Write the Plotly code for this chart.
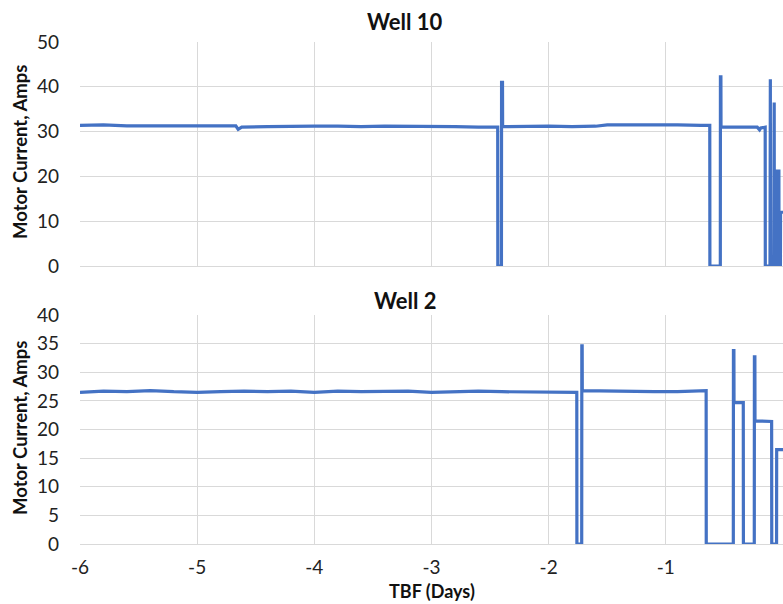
import plotly.graph_objects as go

# ---- Data ----
well10_days = [-6.0, -5.8, -5.6, -5.4, -5.2, -5.0, -4.8, -4.67, -4.65, -4.62, -4.4, -4.2,
               -4.0, -3.8, -3.6, -3.4, -3.2, -3.0, -2.8, -2.6, -2.435, -2.434, -2.403,
               -2.402, -2.394, -2.393, -2.2, -2.0, -1.8, -1.6, -1.5, -1.3, -1.1, -0.9,
               -0.7, -0.625, -0.624, -0.535, -0.534, -0.530, -0.529, -0.4, -0.3, -0.22,
               -0.20, -0.19, -0.152, -0.151, -0.111, -0.110, -0.108, -0.107, -0.080,
               -0.079, -0.075, -0.074, -0.049, -0.048, -0.035, -0.034, -0.022, -0.021, 0.0]
well10_amps = [31.4, 31.5, 31.3, 31.3, 31.4, 31.4, 31.3, 31.3, 30.5, 31.0, 31.1, 31.2,
               31.2, 31.2, 31.1, 31.2, 31.2, 31.1, 31.1, 31.0, 31.0, 0.0, 0.0,
               41.0, 41.0, 31.1, 31.2, 31.2, 31.1, 31.2, 31.5, 31.5, 31.6, 31.5,
               31.4, 31.4, 0.0, 0.0, 42.2, 42.2, 31.0, 31.0, 31.0, 31.0,
               30.4, 30.8, 31.0, 0.0, 0.0, 41.7, 41.7, 0.0, 0.0,
               36.5, 36.5, 0.0, 0.0, 21.2, 21.2, 0.0, 0.0, 12.0, 12.0]

well2_days = [-6.0, -5.8, -5.6, -5.4, -5.2, -5.0, -4.8, -4.6, -4.4, -4.2, -4.0, -3.8,
              -3.6, -3.4, -3.2, -3.0, -2.8, -2.6, -2.4, -2.2, -2.0, -1.8, -1.760,
              -1.759, -1.718, -1.717, -1.714, -1.713, -1.5, -1.3, -1.1, -0.9, -0.7,
              -0.656, -0.655, -0.424, -0.423, -0.419, -0.418, -0.339, -0.338, -0.245,
              -0.244, -0.240, -0.239, -0.097, -0.096, -0.055, -0.054, 0.0]
well2_amps = [26.5, 26.7, 26.6, 26.8, 26.6, 26.5, 26.6, 26.7, 26.6, 26.7, 26.5, 26.7,
              26.6, 26.6, 26.7, 26.5, 26.6, 26.7, 26.6, 26.6, 26.5, 26.5, 26.5,
              0.0, 0.0, 34.6, 34.6, 26.8, 26.7, 26.6, 26.6, 26.6, 26.7,
              26.8, 0.0, 0.0, 33.8, 33.8, 24.7, 24.7, 0.0, 0.0,
              32.7, 32.7, 21.5, 21.4, 0.0, 0.0, 16.5, 16.5]

x_ticks = [-6, -5, -4, -3, -2, -1, 0]
x_ticktext = ["-6", "-5", "-4", "-3", "-2", "-1", "0"]
y10_ticks = [0, 10, 20, 30, 40, 50]
y2_ticks = [0, 5, 10, 15, 20, 25, 30, 35, 40]

W, H = 783, 604
LEFT = 80
BLUE = "#4472C4"
GRID = "#d9d9d9"
FONT = "Lato"
TICKSIZE = 19

fig = go.Figure()
fig.add_trace(go.Scatter(x=well10_days, y=well10_amps, mode="lines",
                         line=dict(color=BLUE, width=3.2), xaxis="x", yaxis="y",
                         showlegend=False))
fig.add_trace(go.Scatter(x=well2_days, y=well2_amps, mode="lines",
                         line=dict(color=BLUE, width=3.2), xaxis="x2", yaxis="y2",
                         showlegend=False))

def ydom(top_px, bot_px):
    return [(H - bot_px) / H, (H - top_px) / H]

common_x = dict(range=[-6, 0], tickvals=x_ticks, ticktext=x_ticktext, showgrid=True,
                gridcolor=GRID, gridwidth=1, showline=True, linecolor=GRID, linewidth=1,
                zeroline=False, ticks="", domain=[0, 1])
common_y = dict(showgrid=True, gridcolor=GRID, gridwidth=1, zeroline=False,
                showline=False, ticks="", ticklabelstandoff=20,
                tickfont=dict(family=FONT, size=TICKSIZE, color="#222"))

fig.update_layout(
    width=W, height=H,
    margin=dict(l=LEFT, r=0, t=0, b=0, autoexpand=False),
    paper_bgcolor="white", plot_bgcolor="white",
    font=dict(family=FONT, color="#222"),
    xaxis=dict(**common_x, anchor="y", showticklabels=False),
    yaxis=dict(**common_y, range=[0, 50], tickvals=y10_ticks,
               domain=ydom(42, 266), anchor="x"),
    xaxis2=dict(**common_x, anchor="y2", showticklabels=True,
                ticklabelstandoff=6,
                tickfont=dict(family=FONT, size=TICKSIZE, color="#222")),
    yaxis2=dict(**common_y, range=[0, 40], tickvals=y2_ticks,
                domain=ydom(315, 544), anchor="x2"),
)

pw = W - LEFT
def px_x(p):
    return (p - LEFT) / pw
def px_y(p):
    return (H - p) / H

ann = [
    dict(text="<b>Well 10</b>", x=px_x(405), y=px_y(21), size=22, angle=0),
    dict(text="<b>Well 2</b>", x=px_x(405), y=px_y(300), size=22, angle=0),
    dict(text="<b>Motor Current, Amps</b>", x=px_x(20), y=px_y(152), size=18.5, angle=-90),
    dict(text="<b>Motor Current, Amps</b>", x=px_x(20), y=px_y(428), size=18.5, angle=-90),
    dict(text="<b>TBF (Days)</b>", x=px_x(432), y=px_y(591), size=18, angle=0),
]
for a in ann:
    fig.add_annotation(text=a["text"], x=a["x"], y=a["y"], xref="paper", yref="paper",
                       xanchor="center", yanchor="middle", showarrow=False,
                       textangle=a["angle"],
                       font=dict(family=FONT, size=a["size"], color="#111"))

fig.write_html("out.html")
